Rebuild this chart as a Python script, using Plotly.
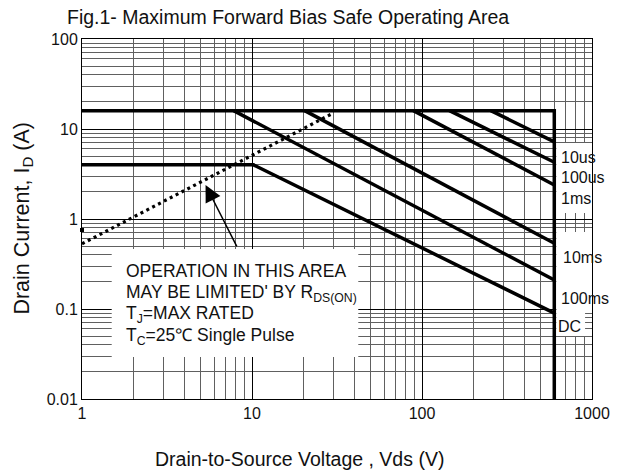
import plotly.graph_objects as go
import math

# ---------------- data ----------------
env_v = [1, 600, 600]
env_i = [16, 16, 0.01]

dc_v = [1, 10.2, 600]
dc_i = [4, 4, 0.09]

ms100_v = [7.8, 600]
ms100_i = [16, 0.21]

ms10_v = [20.4, 600]
ms10_i = [16, 0.537]

ms1_v = [89, 600]
ms1_i = [16, 2.39]

us100_v = [145, 600]
us100_i = [16, 4.27]

us10_v = [254, 600]
us10_i = [16, 7.2]

rds_v = [1, 30]
rds_i = [0.53, 15]

rds_dot_v = [1]
rds_dot_i = [0.755]

x_tickvals = [1, 10, 100, 1000]
x_ticktext = ["1", "10", "100", "1000"]
y_tickvals = [0.01, 0.1, 1, 10, 100]
y_ticktext = ["0.01", "0.1", "1", "10", "100"]

curve_labels = ["10us", "100us", "1ms", "10ms", "100ms", "DC"]

# ---------------- layout geometry ----------------
# page body has an 8px margin, so the figure is drawn 8px right/down
OFF = 8
W, H = 622 - OFF, 473 - OFF
PL, PR, PT, PB = 82, 597, 39, 399          # plot area in screen pixels
L, T = PL - OFF, PT - OFF
PW, PH = PR - PL, PB - PT
R, B = W - L - PW, H - T - PH
XR = [0, 3]
YR = [-2, 2]


def px(xs):
    return (xs - PL) / PW


def py(ys):
    return (PB - ys) / PH


def xdata(xs):
    return 10 ** (XR[0] + px(xs) * (XR[1] - XR[0]))


def ydata(ys):
    return 10 ** (YR[0] + py(ys) * (YR[1] - YR[0]))


fig = go.Figure()

# white masks over the grid (text box and label areas), drawn under the curves
masks = [(112, 249, 361, 357), (561, 143, 600, 213), (561, 232, 600, 310),
         (561, 310, 590, 336)]
for x0, y0, x1, y1 in masks:
    fig.add_trace(go.Scatter(
        x=[xdata(x0), xdata(x1), xdata(x1), xdata(x0), xdata(x0)],
        y=[ydata(y0), ydata(y0), ydata(y1), ydata(y1), ydata(y0)],
        mode="lines", fill="toself", fillcolor="white", line=dict(width=0),
        showlegend=False, hoverinfo="skip"))

thick = dict(color="black", width=3.5)
for v, i in [(env_v, env_i), (dc_v, dc_i), (ms100_v, ms100_i), (ms10_v, ms10_i),
             (ms1_v, ms1_i), (us100_v, us100_i), (us10_v, us10_i)]:
    fig.add_trace(go.Scatter(x=v, y=i, mode="lines", line=thick, showlegend=False,
                             hoverinfo="skip"))

fig.add_trace(go.Scatter(x=rds_v, y=rds_i, mode="lines",
                         line=dict(color="black", width=3.2, dash="3px,3.6px"),
                         showlegend=False, hoverinfo="skip"))
fig.add_trace(go.Scatter(x=rds_dot_v, y=rds_dot_i, mode="markers",
                         marker=dict(symbol="square", size=4, color="black"),
                         cliponaxis=False, showlegend=False, hoverinfo="skip"))

# minor grid values derived from the axis decades
x_minor = [m * 10 ** d for d in range(0, 3) for m in range(2, 10)]
y_minor = [m * 10 ** d for d in range(-2, 2) for m in range(2, 10)]

font = "Liberation Sans, Arial, sans-serif"
tickfont = dict(family=font, size=16, color="#111")

fig.update_xaxes(type="log", range=XR, tickmode="array", tickvals=x_tickvals,
                 ticktext=x_ticktext, showgrid=True, gridcolor="#000", gridwidth=1,
                 minor=dict(tickmode="array", tickvals=x_minor, showgrid=True,
                            gridcolor="#606060", gridwidth=1, ticks=""),
                 showline=True, linecolor="black", linewidth=1, mirror=True,
                 ticks="", tickfont=tickfont, zeroline=False)
fig.update_yaxes(type="log", range=YR, tickmode="array", tickvals=y_tickvals,
                 ticktext=y_ticktext, showgrid=True, gridcolor="#000", gridwidth=1,
                 minor=dict(tickmode="array", tickvals=y_minor, showgrid=True,
                            gridcolor="#606060", gridwidth=1, ticks=""),
                 showline=True, linecolor="black", linewidth=1, mirror=True,
                 ticks="", tickfont=tickfont, zeroline=False)

ann = []
ann.append(dict(text="Fig.1- Maximum Forward Bias Safe Operating Area", xref="paper",
                yref="paper", x=px(290), y=py(17), xanchor="center", yanchor="middle",
                showarrow=False, font=dict(family=font, size=19.5, color="#111")))
ann.append(dict(text="Drain-to-Source Voltage , Vds (V)", xref="paper", yref="paper",
                x=px(302), y=py(459), xanchor="center", yanchor="middle",
                showarrow=False, font=dict(family=font, size=19.5, color="#111")))
ann.append(dict(text="Drain Current, I<sub>D</sub> (A)", xref="paper", yref="paper",
                x=px(22), y=py(219), xanchor="center", yanchor="middle", textangle=-90,
                showarrow=False, font=dict(family=font, size=21.5, color="#111")))

box_lines = ["OPERATION IN THIS AREA",
             "MAY BE LIMITED' BY R<sub>DS(ON)</sub>",
             "T<sub>J</sub>=MAX RATED",
             "T<sub>C</sub>=25℃ Single Pulse"]
box_y = [271, 293, 314, 336]
for t, yy in zip(box_lines, box_y):
    ann.append(dict(text=t, xref="paper", yref="paper", x=px(124), y=py(yy),
                    xanchor="left", yanchor="middle", showarrow=False,
                    font=dict(family=font, size=17.5, color="#111")))

label_pos = [(564, 157), (564, 177), (564, 198), (566, 257), (564, 298), (561, 326)]
for t, (xx, yy) in zip(curve_labels, label_pos):
    ann.append(dict(text=t, xref="paper", yref="paper", x=px(xx), y=py(yy),
                    xanchor="left", yanchor="middle", showarrow=False,
                    font=dict(family=font, size=16, color="#111")))

# arrow pointing to the RDS(on) line
ann.append(dict(text="", x=math.log10(5.33), y=math.log10(2.39), xref="x", yref="y",
                ax=32, ay=63, showarrow=True, arrowhead=2, arrowsize=2.2,
                arrowwidth=1.5, arrowcolor="black"))

fig.update_layout(width=W, height=H, margin=dict(l=L, r=R, t=T, b=B),
                  paper_bgcolor="white", plot_bgcolor="white",
                  annotations=ann, showlegend=False)

fig.write_html("out.html")
